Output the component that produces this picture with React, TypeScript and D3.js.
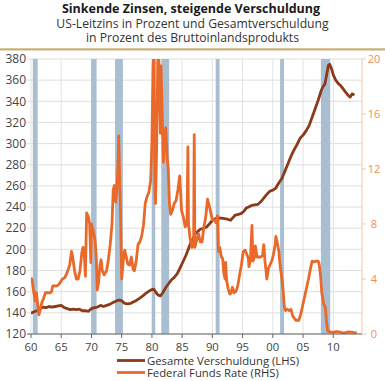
import React from "react";
import * as d3 from "d3";

const debtYears = [1960.0,1960.5,1961.0,1961.5,1962.0,1962.5,1963.0,1963.5,1964.0,1964.5,1965.0,1965.5,1966.0,1966.5,1967.0,1967.5,1968.0,1968.5,1969.0,1969.5,1970.0,1970.5,1971.0,1971.5,1972.0,1972.5,1973.0,1973.5,1974.0,1974.5,1975.0,1975.5,1976.0,1976.5,1977.0,1977.5,1978.0,1978.5,1979.0,1979.5,1980.0,1980.3,1980.7,1981.0,1981.4,1981.8,1982.3,1982.8,1983.2,1983.7,1984.2,1984.7,1985.2,1985.6,1986.0,1986.4,1986.8,1987.2,1987.6,1988.0,1988.5,1989.0,1989.5,1990.0,1990.5,1991.0,1991.5,1992.0,1992.5,1993.0,1993.4,1993.8,1994.3,1994.8,1995.2,1995.6,1996.0,1996.5,1997.0,1997.5,1998.0,1998.5,1999.0,1999.5,2000.0,2000.5,2001.0,2001.5,2002.0,2002.5,2003.0,2003.5,2004.0,2004.5,2005.0,2005.5,2006.0,2006.5,2007.0,2007.5,2008.0,2008.3,2008.6,2008.9,2009.2,2009.4,2009.7,2010.0,2010.4,2010.8,2011.2,2011.6,2012.0,2012.4,2012.8,2013.1,2013.5];
const debtValues = [139.5,141,142,144,145.5,145,146,145.5,146,146.5,147,145,144,143,143.5,143,143.5,142,142,141.5,144,145,145.5,147,146,147,148,149.5,151,152,151.5,149,148.5,149,150.5,152,154,156,158.5,160.5,162,162.5,159,157,156,159,164,168,171,173.5,177,183,189,194,200,206,210,215,217,219,220,221,224,227.5,229,229.5,229.5,229,228.5,227.5,230,232.5,233,234,236,239,240,241.5,242,242.5,245,248.5,252,255,256,258,263,267,274,281,288,294,299,305,308,312,317,325,333,341,350,354,356,365,374,375,371,365,360,357,355,352,349,346,344,347,346];

const ffrYears = [1960.0,1960.2,1960.5,1960.7,1960.9,1961.1,1961.3,1961.5,1961.8,1962.0,1962.4,1962.8,1963.2,1963.4,1963.6,1963.9,1964.3,1964.6,1964.9,1965.2,1965.6,1966.0,1966.4,1966.7,1966.9,1967.2,1967.5,1967.8,1968.1,1968.4,1968.6,1968.8,1969.0,1969.2,1969.5,1969.7,1969.9,1970.0,1970.3,1970.6,1970.8,1970.95,1971.2,1971.4,1971.6,1971.8,1972.1,1972.5,1972.8,1973.1,1973.4,1973.6,1973.8,1974.0,1974.2,1974.4,1974.5,1974.8,1975.0,1975.3,1975.5,1975.8,1976.0,1976.3,1976.6,1976.9,1977.1,1977.4,1977.7,1978.0,1978.3,1978.6,1978.9,1979.2,1979.5,1979.8,1980.0,1980.2,1980.35,1980.5,1980.6,1980.8,1981.0,1981.2,1981.4,1981.5,1981.7,1981.9,1982.1,1982.3,1982.5,1982.7,1982.9,1983.1,1983.4,1983.7,1984.0,1984.3,1984.6,1984.9,1985.2,1985.5,1985.8,1985.95,1986.05,1986.3,1986.6,1986.9,1987.0,1987.1,1987.4,1987.7,1988.0,1988.3,1988.6,1988.9,1989.2,1989.5,1989.8,1990.0,1990.3,1990.6,1990.85,1991.0,1991.2,1991.5,1991.7,1991.9,1992.1,1992.2,1992.35,1992.6,1992.9,1993.1,1993.3,1993.6,1993.9,1994.2,1994.5,1994.8,1995.1,1995.4,1995.7,1995.95,1996.05,1996.3,1996.55,1996.7,1997.0,1997.1,1997.4,1997.7,1998.0,1998.3,1998.5,1998.7,1998.9,1999.0,1999.3,1999.5,1999.9,2000.1,2000.4,2000.5,2000.8,2001.0,2001.2,2001.5,2001.7,2001.9,2002.1,2002.4,2002.7,2003.0,2003.3,2003.8,2004.3,2004.6,2004.9,2005.3,2005.6,2005.9,2006.2,2006.5,2006.8,2007.2,2007.5,2007.7,2007.9,2008.1,2008.4,2008.7,2008.9,2009.1,2009.5,2010.0,2010.5,2011.0,2011.5,2012.0,2012.5,2013.0,2013.5,2013.9];
const ffrValues = [4.1,3.9,2.9,2.4,3.0,2.2,1.4,1.7,2.3,2.5,3.0,3.0,3.0,3.1,3.5,3.5,3.5,3.6,3.8,4.0,4.1,4.5,5.0,6.0,5.6,4.6,4.0,4.0,4.6,5.9,6.3,5.9,4.2,8.8,8.5,8.0,5.2,8.0,7.5,6.8,5.5,3.2,3.8,5.0,5.4,4.6,4.3,4.6,5.4,6.5,8.0,10.5,10.8,9.6,10.5,12.5,14.4,9.0,4.0,5.5,6.1,5.5,5.1,5.0,5.6,4.7,4.6,5.3,6.5,6.7,7.1,7.9,9.5,10.0,10.3,11.2,14.0,19.5,21,10.0,9.5,14,21,19.5,14.6,19.5,16,12.5,14.5,15.0,13.0,12.0,9.5,8.7,9.0,9.5,9.7,10.5,11.5,9.0,8.5,7.8,8.0,13.6,8.0,7.0,6.3,6.5,14.5,6.3,6.8,7.3,6.7,6.7,7.8,8.5,9.8,9.3,8.7,8.3,8.3,8.1,8.6,6.0,6.3,5.6,5.5,4.4,4.0,5.2,3.9,3.3,2.9,3.0,3.4,3.0,3.1,3.5,4.3,5.0,6.0,6.1,5.8,5.5,4.9,5.4,7.9,5.3,5.6,6.4,5.6,5.6,5.6,5.7,6.5,5.3,4.5,4.0,4.8,5.0,5.4,5.8,6.5,7.1,6.5,6.0,5.0,4.0,3.2,2.0,1.7,1.8,1.7,1.8,1.3,1.0,1.0,1.4,2.0,2.8,3.4,4.0,4.7,5.3,5.25,5.3,5.3,5.0,4.2,3.0,2.2,1.9,0.8,0.2,0.15,0.12,0.18,0.15,0.08,0.1,0.15,0.14,0.1,0.08];

const recessionStarts = [1960.3, 1969.95, 1973.9, 1980.0, 1981.55, 1990.55, 2001.2, 2007.95];
const recessionEnds = [1961.1, 1970.85, 1975.2, 1980.55, 1982.85, 1991.2, 2001.85, 2009.5];

const xTickYears = [1960,1965,1970,1975,1980,1985,1990,1995,2000,2005,2010];
const xTickLabels = ["60","65","70","75","80","85","90","95","00","05","10"];
const leftTicks = [120,140,160,180,200,220,240,260,280,300,320,340,360,380];
const rightTicks = [0,4,8,12,16,20];

const titleText = "Sinkende Zinsen, steigende Verschuldung";
const subtitleLines = ["US-Leitzins in Prozent und Gesamtverschuldung", "in Prozent des Bruttoinlandsprodukts"];
const legendLabels = ["Gesamte Verschuldung (LHS)", "Federal Funds Rate (RHS)"];

const BROWN = "#8b3a1a";
const ORANGE = "#e8692a";
const FONT = "'Open Sans', 'Noto Sans', sans-serif";

export default function App() {
  React.useEffect(() => {
    document.body.style.margin = "0";
  }, []);
  const L = 31, R = 362, T = 59, B = 334;
  const x = d3.scaleLinear().domain([1960, 2014.75]).range([L, R]);
  const yL = d3.scaleLinear().domain([120, 380]).range([B, T]);
  const yR = d3.scaleLinear().domain([0, 20]).range([B, T]);

  const debt = debtYears.map((yr, i) => [yr, debtValues[i]] as [number, number]);
  const ffr = ffrYears.map((yr, i) => [yr, ffrValues[i]] as [number, number]);
  const lineL = d3.line<[number, number]>().x(d => x(d[0])).y(d => yL(d[1])).curve(d3.curveLinear);
  const lineR = d3.line<[number, number]>().x(d => x(d[0])).y(d => yR(d[1])).curve(d3.curveLinear);

  return (
    <svg width={385} height={381} style={{ position: "absolute", left: 0, top: 0, background: "#fff" }} fontFamily={FONT}>
      <defs>
        <clipPath id="plotclip">
          <rect x={L} y={T} width={R - L} height={B - T} />
        </clipPath>
      </defs>
      <text x={191} y={13} textAnchor="middle" fontSize={12.5} fontWeight={700} fill="#1a1a1a">{titleText}</text>
      {subtitleLines.map((s, i) => (
        <text key={i} x={192.5} y={27.5 + i * 14.2} textAnchor="middle" fontSize={12.2} fill="#333">{s}</text>
      ))}
      <rect x={0} y={48.3} width={385} height={2.2} fill="#c8ae74" />

      {leftTicks.map(v => (
        <line key={"hg" + v} x1={27} x2={R} y1={yL(v)} y2={yL(v)} stroke="#dedede" strokeWidth={1} />
      ))}
      {xTickYears.map(v => (
        <line key={"vg" + v} x1={x(v)} x2={x(v)} y1={T} y2={B} stroke="#e2e2e2" strokeWidth={1} />
      ))}
      {recessionStarts.map((s, i) => (
        <rect key={"rc" + i} x={x(s)} y={T} width={x(recessionEnds[i]) - x(s)} height={B - T} fill="#a9bfd1" />
      ))}

      <g clipPath="url(#plotclip)">
        <path d={lineL(debt) || ""} fill="none" stroke={BROWN} strokeWidth={2.8} strokeLinejoin="round" />
        <path d={lineR(ffr) || ""} fill="none" stroke={ORANGE} strokeWidth={2.8} strokeLinejoin="round" />
      </g>

      <line x1={27} x2={R} y1={B} y2={B} stroke="#666" strokeWidth={1} />
      {xTickYears.map((v, i) => (
        <g key={"xt" + v}>
          <line x1={x(v)} x2={x(v)} y1={B} y2={B + 4} stroke="#666" />
          <text x={x(v)} y={351} textAnchor="middle" fontSize={11.3} fill="#444">{xTickLabels[i]}</text>
        </g>
      ))}
      {leftTicks.map(v => (
        <text key={"lt" + v} x={26} y={yL(v) + 4.2} textAnchor="end" fontSize={12} fill="#444">{v}</text>
      ))}
      <line x1={R} x2={R} y1={T} y2={B} stroke="#f5c7a9" strokeWidth={1} />
      {rightTicks.map(v => (
        <g key={"rt" + v}>
          <line x1={R} x2={R + 4} y1={yR(v)} y2={yR(v)} stroke="#f5c7a9" />
          <text x={374} y={yR(v) + 4} textAnchor="middle" fontSize={11} fill="#ef8e55">{v}</text>
        </g>
      ))}

      {legendLabels.map((lab, i) => (
        <g key={"lg" + i}>
          <line x1={117} x2={145} y1={360.5 + i * 12} y2={360.5 + i * 12} stroke={i === 0 ? BROWN : ORANGE} strokeWidth={2.8} />
          <text x={147} y={364.5 + i * 12} fontSize={11.3} fill="#333">{lab}</text>
        </g>
      ))}
    </svg>
  );
}
